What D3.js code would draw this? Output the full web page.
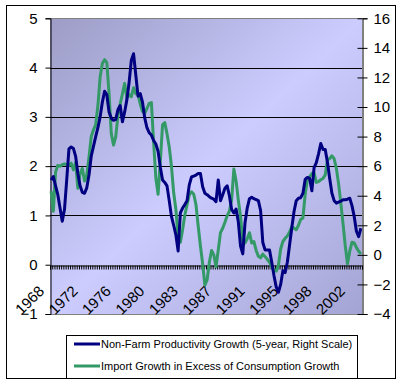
<!DOCTYPE html>
<html>
<head>
<meta charset="UTF-8" />
<script src="https://cdn.jsdelivr.net/npm/d3@7"></script>
<style>
  body { margin: 0; background: #fff; }
  svg { display: block; font-family: "Liberation Sans", Arial, sans-serif; }
</style>
</head>
<body>
<svg width="402" height="384"></svg>
<script>
// quarterly, 1968Q4 onwards
const tickLabels = ['1968', '1972', '1976', '1980', '1983', '1987', '1991', '1995', '1998', '2002'];
const tickEvery = 15;

// left scale
const productivity = [
  1.72, 1.79, 1.6, 1.42, 1.15, 0.88, 1.12, 1.72, 2.35, 2.39,
  2.36, 2.2, 1.85, 1.6, 1.47, 1.45, 1.56, 1.82, 2.2, 2.4,
  2.6, 2.78, 3.0, 3.3, 3.52, 3.45, 3.1, 2.97, 2.93, 2.95,
  3.15, 3.23, 2.9, 3.1, 3.35, 3.7, 4.15, 4.28, 3.85, 3.42,
  3.47, 3.3, 2.98, 2.78, 2.68, 2.63, 2.52, 2.45, 2.3, 1.98,
  1.72, 1.67, 1.6, 1.3, 0.98, 0.8, 0.6, 0.28, 1.05, 1.15,
  1.22, 1.3, 1.62, 1.78, 1.8, 1.82, 1.85, 1.85, 1.58, 1.45,
  1.42, 1.38, 1.35, 1.33, 1.28, 1.72, 1.3, 1.42, 1.55, 1.6,
  1.4, 1.12, 1.05, 1.13, 0.87, 0.38, 0.22, 0.85, 1.15, 1.34,
  1.37, 1.34, 1.32, 1.3, 1.1, 0.45, 0.3, 0.3, 0.3, 0.05,
  -0.22, -0.45, -0.56, -0.4, -0.12, -0.16, 0.05, 0.4, 0.75, 1.08,
  1.3, 1.35, 1.36, 1.45, 1.73, 1.77, 1.75, 1.5, 1.97, 2.07,
  2.25, 2.46, 2.34, 2.34, 2.08, 1.75, 1.45, 1.3, 1.25, 1.27,
  1.29, 1.32, 1.32, 1.33, 1.35, 1.2, 0.98, 0.68, 0.57, 0.74
];

// right scale
const importExcess = [
  4.3, 2.95, 5.6, 6.05, 6.0, 6.1, 6.15, 6.1, 6.05, 6.2,
  5.75, 6.25, 4.5, 5.5, 5.85, 5.0, 5.4, 6.6, 8.0, 8.45,
  8.8, 10.1, 12.05, 12.95, 13.2, 13.0, 10.9, 8.2, 7.43, 8.0,
  9.45, 10.2, 10.9, 11.6, 10.6, 10.85, 10.7, 11.3, 10.9, 10.85,
  10.2, 9.7, 9.58, 9.9, 10.25, 10.3, 7.6, 5.2, 4.1, 6.3,
  8.8, 8.95, 8.2, 7.3, 6.0, 4.2, 3.05, 1.2, 0.85, 1.7,
  2.7, 3.4, 4.05, 4.27, 4.1, 3.4, 1.95, 0.6, -0.6, -2.05,
  -1.7, -0.5, 0.3, 0.0, -0.8, 0.33, 1.5, 1.8, 2.2, 2.65,
  2.95, 3.7, 5.8, 5.0, 3.7, 2.6, 0.9, 0.8, 1.1, 1.5,
  0.8, 0.9, 0.3, -0.1, -0.2, 0.05, -0.12, -0.3, -0.5, -0.8,
  -1.05, -1.1, -0.7, 0.4, 0.9, 1.12, 1.28, 1.55, 1.9, 1.8,
  1.7, 2.0, 2.4, 2.5, 4.1, 5.1, 5.28, 5.5, 5.55, 4.9,
  4.95, 5.08, 5.17, 5.4, 6.42, 6.52, 6.7, 6.5, 5.85, 4.8,
  3.5, 2.1, 0.6, -0.6, 0.25, 0.85, 0.8, 0.5, 0.25, 0.05
];

const leftTicks = [-1, 0, 1, 2, 3, 4, 5];
const rightTicks = [-4, -2, 0, 2, 4, 6, 8, 10, 12, 14, 16];
const seriesNames = [
  'Non-Farm Productivity Growth (5-year, Right Scale)',
  'Import Growth in Excess of Consumption Growth'
];
const colors = ['#000080', '#339966'];

const svg = d3.select('svg');
const plot = { left: 50, right: 362, top: 18.3, bottom: 314 };
const n = productivity.length;

const x = d3.scaleLinear().domain([0, n]).range([plot.left, plot.right]);
const yL = d3.scaleLinear().domain([-1, 5]).range([plot.bottom, plot.top]);
const yR = d3.scaleLinear().domain([-4, 16]).range([plot.bottom, plot.top]);

// outer frame
svg.append('rect')
  .attr('x', 6.5).attr('y', 5.5).attr('width', 389).attr('height', 373)
  .attr('fill', '#fff').attr('stroke', '#000');

// plot background
const defs = svg.append('defs');
const grad = defs.append('linearGradient').attr('id', 'bg')
  .attr('x1', 0).attr('y1', 0).attr('x2', 1).attr('y2', 1);
grad.append('stop').attr('offset', 0).attr('stop-color', '#9c9cc6');
grad.append('stop').attr('offset', 0.5).attr('stop-color', '#ccccff');
grad.append('stop').attr('offset', 1).attr('stop-color', '#a4a4d4');

svg.append('rect')
  .attr('x', plot.left).attr('y', plot.top)
  .attr('width', plot.right - plot.left).attr('height', plot.bottom - plot.top)
  .attr('fill', 'url(#bg)');

// top and bottom border of plot
svg.selectAll('.pborder').data([plot.top, plot.bottom]).enter().append('line')
  .attr('x1', plot.left).attr('x2', plot.right)
  .attr('y1', d => Math.round(d) + 0.5).attr('y2', d => Math.round(d) + 0.5)
  .attr('stroke', '#808080');

// gridlines (left scale)
svg.selectAll('.grid').data([1, 2, 3, 4]).enter().append('line')
  .attr('x1', plot.left).attr('x2', plot.right)
  .attr('y1', d => Math.round(yL(d)) + 0.5).attr('y2', d => Math.round(yL(d)) + 0.5)
  .attr('stroke', '#000');

// category axis at 0
const xAxis = d3.axisBottom(x)
  .tickValues(d3.range(0, n + 1))
  .tickSize(4)
  .tickFormat('');
const gx = svg.append('g')
  .attr('transform', `translate(0,${Math.round(yL(0)) + 0.5})`)
  .call(xAxis);
gx.select('.domain').attr('stroke', '#000');
gx.selectAll('.tick line').attr('stroke', '#000');

svg.append('g').selectAll('text')
  .data(tickLabels).enter().append('text')
  .attr('transform', (d, i) => {
    const cx = x(i * tickEvery + 0.5) - 6;
    return `translate(${cx},292) rotate(-45)`;
  })
  .attr('text-anchor', 'end')
  .attr('font-size', 15)
  .text(d => d);

// left axis
const gl = svg.append('g')
  .attr('transform', `translate(${plot.left + 0.5},0)`)
  .call(d3.axisLeft(yL).tickValues(leftTicks).tickSize(5).tickPadding(8).tickFormat(d3.format('d')));
gl.selectAll('text').attr('font-size', 15).attr('fill', '#000')
  .attr('font-family', '"Liberation Sans", Arial, sans-serif');
gl.select('.domain').attr('stroke', '#000');

// right axis
const gr = svg.append('g')
  .attr('transform', `translate(${plot.right + 0.5},0)`)
  .call(d3.axisRight(yR).tickValues(rightTicks).tickSize(5).tickPadding(6).tickFormat(d3.format('d')));
gr.selectAll('.tick line').attr('x1', -5).attr('stroke', '#000');
gr.selectAll('text').attr('font-size', 15).attr('fill', '#000')
  .attr('font-family', '"Liberation Sans", Arial, sans-serif');
gr.select('.domain').attr('stroke', '#000');

// series
const lineL = d3.line().x((d, i) => x(i + 0.5)).y(d => yL(d));
const lineR = d3.line().x((d, i) => x(i + 0.5)).y(d => yR(d));

svg.append('path').datum(importExcess)
  .attr('d', lineR).attr('fill', 'none')
  .attr('stroke', colors[1]).attr('stroke-width', 3).attr('stroke-linejoin', 'round');
svg.append('path').datum(productivity)
  .attr('d', lineL).attr('fill', 'none')
  .attr('stroke', colors[0]).attr('stroke-width', 3).attr('stroke-linejoin', 'round');

// legend
const lg = svg.append('g');
lg.append('rect')
  .attr('x', 66.5).attr('y', 335.5).attr('width', 291).attr('height', 43)
  .attr('fill', '#fff').attr('stroke', '#000');
seriesNames.forEach((name, i) => {
  const ly = 344 + i * 22;
  lg.append('line')
    .attr('x1', 74).attr('x2', 100).attr('y1', ly).attr('y2', ly)
    .attr('stroke', colors[i]).attr('stroke-width', 3);
  lg.append('text')
    .attr('x', 101).attr('y', ly + 4)
    .attr('font-size', 11)
    .text(name);
});
</script>
</body>
</html>
